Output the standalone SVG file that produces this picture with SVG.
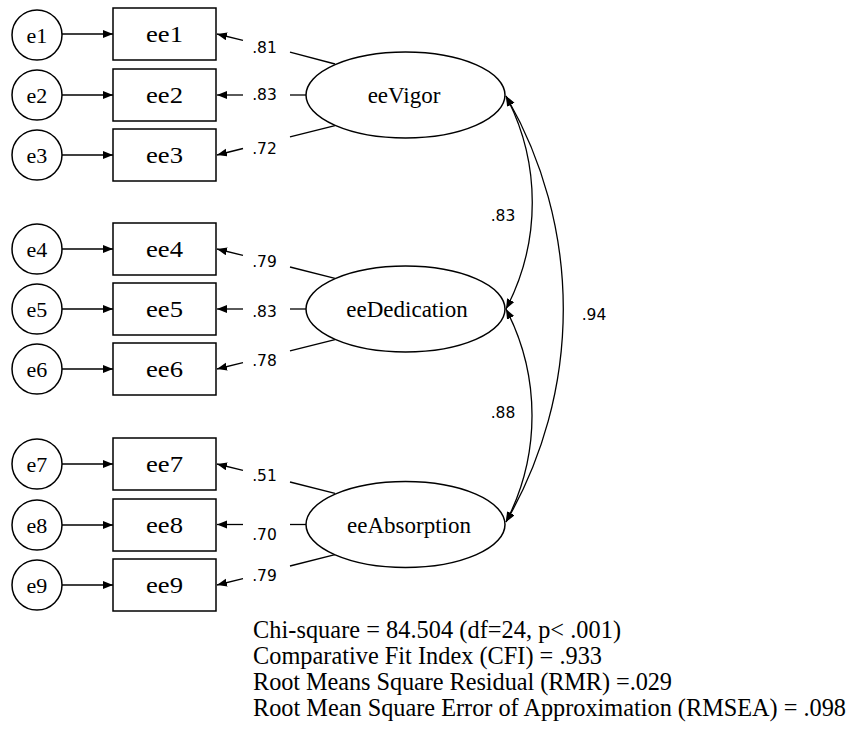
<svg xmlns="http://www.w3.org/2000/svg" width="848" height="733" viewBox="0 0 848 733">
<style>
.nd{fill:#fff;stroke:#000;stroke-width:1.5}
.ln{fill:none;stroke:#000;stroke-width:1.3}
.ser{font-family:"Liberation Serif","Times New Roman",serif;fill:#000;text-anchor:middle}
.sm{font-size:22px}
.bx{font-size:24px}
.el{font-size:23px}
.co{font-family:"DejaVu Sans","Liberation Sans",sans-serif;font-size:15.5px;fill:#000;text-anchor:middle}
.ft{font-family:"Liberation Serif","Times New Roman",serif;font-size:24.3px;fill:#000}
</style>
<defs>
<marker id="ah" markerWidth="11" markerHeight="9" refX="10" refY="4" orient="auto-start-reverse" markerUnits="userSpaceOnUse">
<path d="M0,0 L10,4 L0,8 z" fill="#000"/>
</marker>
</defs>
<rect width="848" height="733" fill="#fff"/>

<g id="connectors">
<line class="ln" x1="62" y1="34" x2="113" y2="34" marker-end="url(#ah)"/>
<line class="ln" x1="62" y1="95" x2="113" y2="95" marker-end="url(#ah)"/>
<line class="ln" x1="62" y1="155" x2="113" y2="155" marker-end="url(#ah)"/>
<line class="ln" x1="62" y1="249" x2="113" y2="249" marker-end="url(#ah)"/>
<line class="ln" x1="62" y1="309" x2="113" y2="309" marker-end="url(#ah)"/>
<line class="ln" x1="62" y1="369" x2="113" y2="369" marker-end="url(#ah)"/>
<line class="ln" x1="62" y1="464" x2="113" y2="464" marker-end="url(#ah)"/>
<line class="ln" x1="62" y1="525" x2="113" y2="525" marker-end="url(#ah)"/>
<line class="ln" x1="62" y1="585" x2="113" y2="585" marker-end="url(#ah)"/>
<line class="ln" x1="335" y1="64" x2="290" y2="52.2"/>
<line class="ln" x1="243" y1="40.3" x2="217" y2="34" marker-end="url(#ah)"/>
<line class="ln" x1="306" y1="95" x2="290" y2="95"/>
<line class="ln" x1="243" y1="95" x2="217" y2="95" marker-end="url(#ah)"/>
<line class="ln" x1="335" y1="125.6" x2="290" y2="136.8"/>
<line class="ln" x1="243" y1="148.5" x2="217" y2="155" marker-end="url(#ah)"/>
<line class="ln" x1="335" y1="278.4" x2="290" y2="267"/>
<line class="ln" x1="243" y1="255.4" x2="217" y2="249" marker-end="url(#ah)"/>
<line class="ln" x1="306" y1="309" x2="290" y2="309"/>
<line class="ln" x1="243" y1="309" x2="217" y2="309" marker-end="url(#ah)"/>
<line class="ln" x1="335" y1="339.6" x2="290" y2="350.8"/>
<line class="ln" x1="243" y1="362.6" x2="217" y2="369" marker-end="url(#ah)"/>
<line class="ln" x1="335" y1="493.4" x2="290" y2="482"/>
<line class="ln" x1="243" y1="470.4" x2="217" y2="464" marker-end="url(#ah)"/>
<line class="ln" x1="306" y1="524.5" x2="290" y2="524.5"/>
<line class="ln" x1="243" y1="524.5" x2="217" y2="524.5" marker-end="url(#ah)"/>
<line class="ln" x1="335" y1="554.6" x2="290" y2="566"/>
<line class="ln" x1="243" y1="578.6" x2="217" y2="585" marker-end="url(#ah)"/>
<path class="ln" d="M506,96 A229,229 0 0 1 506,309" marker-start="url(#ah)" marker-end="url(#ah)"/>
<path class="ln" d="M506,309 A231,231 0 0 1 506,522" marker-start="url(#ah)" marker-end="url(#ah)"/>
<path class="ln" d="M506,96 A424.6,424.6 0 0 1 506,522" marker-start="url(#ah)" marker-end="url(#ah)"/>
</g>

<g id="labels">
<text class="co" x="264.5" y="53">.81</text>
<text class="co" x="264.5" y="100">.83</text>
<text class="co" x="264.5" y="153.5">.72</text>
<text class="co" x="264.5" y="267">.79</text>
<text class="co" x="264.5" y="317">.83</text>
<text class="co" x="264.5" y="366">.78</text>
<text class="co" x="264.5" y="481">.51</text>
<text class="co" x="264.5" y="539.5">.70</text>
<text class="co" x="264.5" y="581">.79</text>
<text class="co" x="503" y="221">.83</text>
<text class="co" x="594" y="320">.94</text>
<text class="co" x="503" y="418">.88</text>
</g>

<g id="e1"><circle class="nd" cx="37" cy="35" r="25"/><text class="ser sm" x="37" y="42.5">e1</text></g>
<g id="e2"><circle class="nd" cx="37" cy="95" r="25"/><text class="ser sm" x="37" y="102.5">e2</text></g>
<g id="e3"><circle class="nd" cx="37" cy="155" r="25"/><text class="ser sm" x="37" y="162.5">e3</text></g>
<g id="e4"><circle class="nd" cx="37" cy="249" r="25"/><text class="ser sm" x="37" y="256.5">e4</text></g>
<g id="e5"><circle class="nd" cx="37" cy="309" r="25"/><text class="ser sm" x="37" y="316.5">e5</text></g>
<g id="e6"><circle class="nd" cx="37" cy="369" r="25"/><text class="ser sm" x="37" y="376.5">e6</text></g>
<g id="e7"><circle class="nd" cx="37" cy="464" r="25"/><text class="ser sm" x="37" y="471.5">e7</text></g>
<g id="e8"><circle class="nd" cx="37" cy="525" r="25"/><text class="ser sm" x="37" y="532.5">e8</text></g>
<g id="e9"><circle class="nd" cx="37" cy="585" r="25"/><text class="ser sm" x="37" y="592.5">e9</text></g>

<g id="ee1"><rect class="nd" x="113" y="8" width="103" height="52"/><text class="ser bx" x="164.5" y="42" textLength="37" lengthAdjust="spacingAndGlyphs">ee1</text></g>
<g id="ee2"><rect class="nd" x="113" y="69" width="103" height="52"/><text class="ser bx" x="164.5" y="103" textLength="37" lengthAdjust="spacingAndGlyphs">ee2</text></g>
<g id="ee3"><rect class="nd" x="113" y="129" width="103" height="52"/><text class="ser bx" x="164.5" y="163" textLength="37" lengthAdjust="spacingAndGlyphs">ee3</text></g>
<g id="ee4"><rect class="nd" x="113" y="223" width="103" height="52"/><text class="ser bx" x="164.5" y="257" textLength="37" lengthAdjust="spacingAndGlyphs">ee4</text></g>
<g id="ee5"><rect class="nd" x="113" y="283" width="103" height="52"/><text class="ser bx" x="164.5" y="317" textLength="37" lengthAdjust="spacingAndGlyphs">ee5</text></g>
<g id="ee6"><rect class="nd" x="113" y="343" width="103" height="52"/><text class="ser bx" x="164.5" y="377" textLength="37" lengthAdjust="spacingAndGlyphs">ee6</text></g>
<g id="ee7"><rect class="nd" x="113" y="438" width="103" height="52"/><text class="ser bx" x="164.5" y="472" textLength="37" lengthAdjust="spacingAndGlyphs">ee7</text></g>
<g id="ee8"><rect class="nd" x="113" y="499" width="103" height="52"/><text class="ser bx" x="164.5" y="533" textLength="37" lengthAdjust="spacingAndGlyphs">ee8</text></g>
<g id="ee9"><rect class="nd" x="113" y="559" width="103" height="52"/><text class="ser bx" x="164.5" y="593" textLength="37" lengthAdjust="spacingAndGlyphs">ee9</text></g>

<g id="eeVigor"><ellipse class="nd" cx="405.5" cy="95" rx="99.5" ry="43"/><text class="ser el" x="404" y="103">eeVigor</text></g>
<g id="eeDedication"><ellipse class="nd" cx="405.5" cy="309" rx="99.5" ry="43"/><text class="ser el" x="407" y="317">eeDedication</text></g>
<g id="eeAbsorption"><ellipse class="nd" cx="405.5" cy="524.5" rx="99.5" ry="43"/><text class="ser el" x="409" y="532.5">eeAbsorption</text></g>

<g id="fit">
<text class="ft" x="253" y="638" textLength="368">Chi-square = 84.504 (df=24, p&lt; .001)</text>
<text class="ft" x="253" y="664" textLength="349">Comparative Fit Index (CFI) = .933</text>
<text class="ft" x="253" y="690" textLength="419">Root Means Square Residual (RMR) =.029</text>
<text class="ft" x="253" y="716" textLength="593">Root Mean Square Error of Approximation (RMSEA) = .098</text>
</g>
</svg>
